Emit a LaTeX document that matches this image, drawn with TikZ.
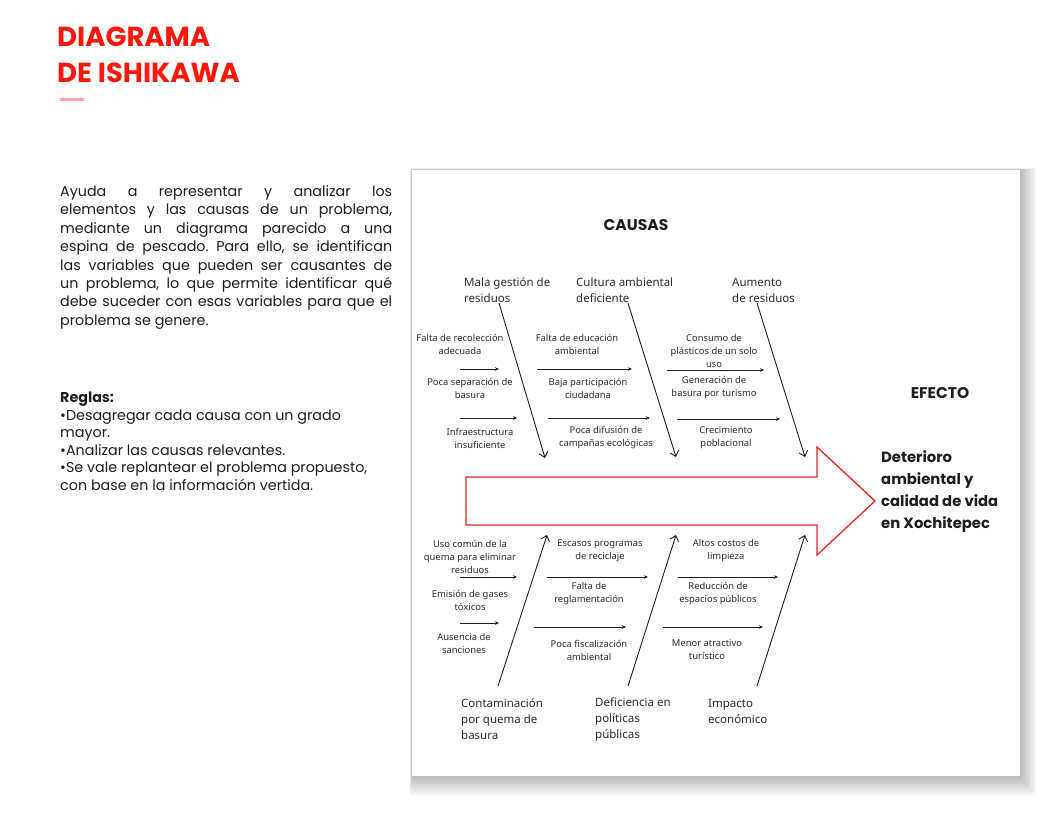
\documentclass[tikz,border=0pt]{standalone}
\usepackage{fontspec}
\setmainfont{Poppins}
\newfontfamily\labelfont{Noto Sans}
\usetikzlibrary{arrows.meta}
\definecolor{titlered}{RGB}{255,22,10}
\definecolor{pinkline}{RGB}{255,165,165}
\definecolor{txt}{RGB}{30,30,30}
\definecolor{lbl}{RGB}{45,45,45}
\definecolor{arrowred}{RGB}{228,38,33}
\frenchspacing
\tikzset{
  big/.style={font=\labelfont\fontsize{11.5}{16}\selectfont, text=lbl, align=left, inner sep=0, anchor=west},
  small/.style={font=\labelfont\fontsize{9.4}{13}\selectfont, text=lbl, align=center, inner sep=0},
  head/.style={font=\fontsize{15.5}{18}\selectfont\bfseries, text=txt, inner sep=0},
  bone/.style={draw=txt, line width=0.9pt, -{Straight Barb[length=5pt,width=9pt]}},
  sub/.style={draw=txt, line width=0.9pt, -{Stealth[length=4pt,width=3.5pt]}},
}
\begin{document}
\begin{tikzpicture}[x=1pt,y=-1pt]
\useasboundingbox (0,0) rectangle (1056,816);
\fill[white] (0,0) rectangle (1056,816);
% title
\node[anchor=base west, inner sep=0, text=titlered, font=\fontsize{27.5}{30}\selectfont\bfseries] (t1) at (57,47) {DIAGRAMA};
\node[anchor=base west, inner sep=0, text=titlered, font=\fontsize{27.5}{30}\selectfont\bfseries] (t2) at (57,82) {DE ISHIKAWA};
\draw[pinkline, line width=3pt] (60,99) -- (84,99);
% paragraph
\node[anchor=base west, inner sep=0, text=txt, font=\fontsize{14.3}{18.4}\selectfont] (para) at (60,196.5) {\begin{minipage}[t]{332pt}\frenchspacing
\makebox[332pt][s]{Ayuda a representar y analizar los}\\
\makebox[332pt][s]{elementos y las causas de un problema,}\\
\makebox[332pt][s]{mediante un diagrama parecido a una}\\
\makebox[332pt][s]{espina de pescado. Para ello, se identifican}\\
\makebox[332pt][s]{las variables que pueden ser causantes de}\\
\makebox[332pt][s]{un problema, lo que permite identificar qué}\\
\makebox[332pt][s]{debe suceder con esas variables para que el}\\
problema se genere.
\end{minipage}};
\node[anchor=base west, inner sep=0, text=txt, font=\fontsize{14.3}{17.6}\selectfont] (rules) at (60,402.5) {\begin{minipage}[t]{345pt}
\textbf{Reglas:}\\
•Desagregar cada causa con un grado\\
mayor.\\
•Analizar las causas relevantes.\\
•Se vale replantear el problema propuesto,\\
con base en la información vertida.
\end{minipage}};
% card shadow
\foreach \i in {1,...,10} {
  \fill[black, opacity=0.026] (412-0.2*\i,170-0.2*\i) rectangle (1020+1.6*\i,776+2.0*\i);
}
\fill[white] (412,170) rectangle (1020,776);
% headings
\node[head] (causas) at (636,225) {CAUSAS};
\node[head] (efecto) at (940,393) {EFECTO};
% big red arrow
\draw[arrowred, line width=1.3pt, line join=miter] (466,477) -- (817,477) -- (817,447) -- (875,501) -- (817,555) -- (817,525) -- (466,525) -- cycle;
\node[anchor=west, align=left, inner sep=0, text=txt, font=\fontsize{14.8}{22}\selectfont\bfseries] (effect) at (881,492) {Deterioro\\ambiental y\\calidad de vida\\en Xochitepec};
% main causes
\node[big] (m1) at (464,290) {Mala gestión de\\residuos};
\node[big] (m2) at (576,290) {Cultura ambiental\\deficiente};
\node[big] (m3) at (732,290) {Aumento\\de residuos};
\node[big] (m4) at (461,719) {Contaminación\\por quema de\\basura};
\node[big] (m5) at (595,719) {Deficiencia en\\políticas\\públicas};
\node[big] (m6) at (708,711) {Impacto\\económico};
% bones
\coordinate (b1s) at (499,303); \coordinate (b1e) at (545,458);
\coordinate (b2s) at (628,303); \coordinate (b2e) at (676,457);
\coordinate (b3s) at (757,303); \coordinate (b3e) at (805,457);
\coordinate (b4s) at (498,686); \coordinate (b4e) at (547,535);
\coordinate (b5s) at (628,686); \coordinate (b5e) at (676,535);
\coordinate (b6s) at (757,686); \coordinate (b6e) at (805,535);
\foreach \k in {1,...,6} { \draw[bone] (b\k s) -- (b\k e); }
% sub arrows
\coordinate (u11s) at (460,369); \coordinate (u11e) at (499,369);
\coordinate (u12s) at (537,369); \coordinate (u12e) at (632,369);
\coordinate (u13s) at (667,370); \coordinate (u13e) at (764,370);
\coordinate (u21s) at (460,418); \coordinate (u21e) at (517,418);
\coordinate (u22s) at (548,418); \coordinate (u22e) at (650,418);
\coordinate (u23s) at (677,419); \coordinate (u23e) at (780,419);
\coordinate (l11s) at (460,577); \coordinate (l11e) at (517,577);
\coordinate (l12s) at (547,577); \coordinate (l12e) at (648,577);
\coordinate (l13s) at (678,577); \coordinate (l13e) at (778,577);
\coordinate (l21s) at (460,623); \coordinate (l21e) at (499,623);
\coordinate (l22s) at (534,627); \coordinate (l22e) at (626,627);
\coordinate (l23s) at (663,627); \coordinate (l23e) at (763,627);
\foreach \r in {u,l} { \foreach \a in {1,2} { \foreach \c in {1,2,3} {
  \draw[sub] (\r\a\c s) -- (\r\a\c e);
}}}
% sub causes (upper)
\node[small] (s1) at (460,344) {Falta de recolección\\adecuada};
\node[small] (s2) at (470,388) {Poca separación de\\basura};
\node[small] (s3) at (480,438) {Infraestructura\\insuficiente};
\node[small] (s4) at (577,344) {Falta de educación\\ambiental};
\node[small] (s5) at (588,388) {Baja participación\\ciudadana};
\node[small] (s6) at (606,438) {Poca difusión de\\campañas ecológicas};
\node[small] (s7) at (714,351) {Consumo de\\plásticos de un solo\\uso};
\node[small] (s8) at (714,388) {Generación de\\basura por turismo};
\node[small] (s9) at (726,438) {Crecimiento\\poblacional};
% sub causes (lower)
\node[small] (s10) at (470,557) {Uso común de la\\quema para eliminar\\residuos};
\node[small] (s11) at (470,600) {Emisión de gases\\tóxicos};
\node[small] (s12) at (464,643) {Ausencia de\\sanciones};
\node[small] (s13) at (600,551) {Escasos programas\\de reciclaje};
\node[small] (s14) at (589,594) {Falta de\\reglamentación};
\node[small] (s15) at (589,650) {Poca fiscalización\\ambiental};
\node[small] (s16) at (726,551) {Altos costos de\\limpieza};
\node[small] (s17) at (718,594) {Reducción de\\espacios públicos};
\node[small] (s18) at (707,650) {Menor atractivo\\turístico};
\end{tikzpicture}
\end{document}
